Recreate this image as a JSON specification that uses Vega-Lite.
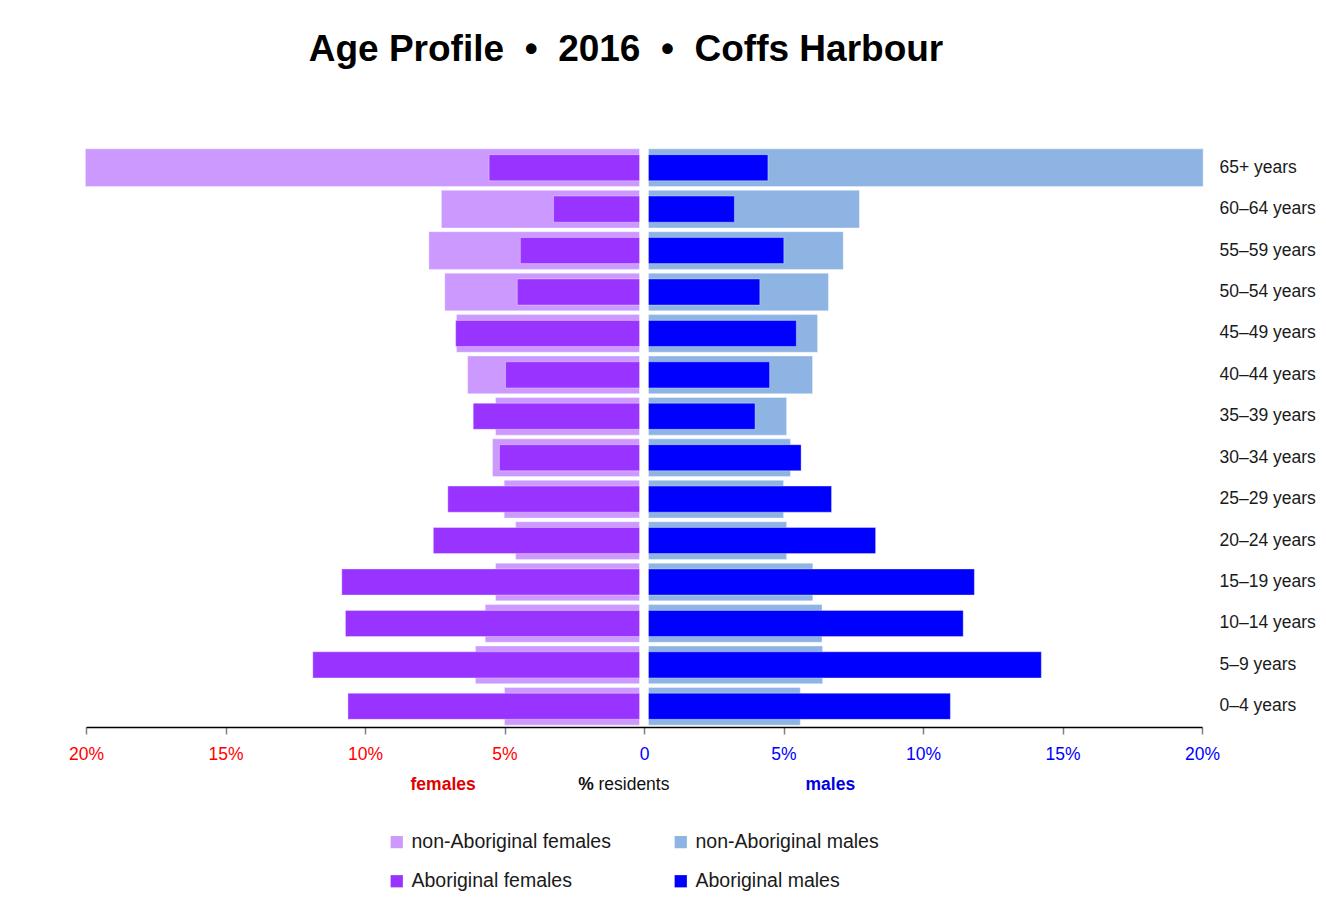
{
  "$schema": "https://vega.github.io/schema/vega-lite/v6.json",
  "width": 1116,
  "height": 580,
  "padding": {"left": 68, "top": 31, "right": 5, "bottom": 5},
  "background": "white",
  "title": {
    "text": "Age Profile\u00a0\u00a0•\u00a0\u00a02016\u00a0\u00a0•\u00a0\u00a0Coffs Harbour",
    "font": "Liberation Sans",
    "fontSize": 37,
    "fontWeight": "bold",
    "color": "black",
    "anchor": "middle",
    "frame": "group",
    "dx": -18,
    "offset": 78
  },
  "datasets": {
    "bars": [
      {"age": "65+ years", "group": "non-Aboriginal females", "share": -19.86},
      {"age": "60–64 years", "group": "non-Aboriginal females", "share": -7.10},
      {"age": "55–59 years", "group": "non-Aboriginal females", "share": -7.55},
      {"age": "50–54 years", "group": "non-Aboriginal females", "share": -6.98},
      {"age": "45–49 years", "group": "non-Aboriginal females", "share": -6.56},
      {"age": "40–44 years", "group": "non-Aboriginal females", "share": -6.16},
      {"age": "35–39 years", "group": "non-Aboriginal females", "share": -5.16},
      {"age": "30–34 years", "group": "non-Aboriginal females", "share": -5.27},
      {"age": "25–29 years", "group": "non-Aboriginal females", "share": -4.85},
      {"age": "20–24 years", "group": "non-Aboriginal females", "share": -4.44},
      {"age": "15–19 years", "group": "non-Aboriginal females", "share": -5.16},
      {"age": "10–14 years", "group": "non-Aboriginal females", "share": -5.53},
      {"age": "5–9 years", "group": "non-Aboriginal females", "share": -5.88},
      {"age": "0–4 years", "group": "non-Aboriginal females", "share": -4.84},
      {"age": "65+ years", "group": "Aboriginal females", "share": -5.39},
      {"age": "60–64 years", "group": "Aboriginal females", "share": -3.08},
      {"age": "55–59 years", "group": "Aboriginal females", "share": -4.27},
      {"age": "50–54 years", "group": "Aboriginal females", "share": -4.38},
      {"age": "45–49 years", "group": "Aboriginal females", "share": -6.59},
      {"age": "40–44 years", "group": "Aboriginal females", "share": -4.80},
      {"age": "35–39 years", "group": "Aboriginal females", "share": -5.96},
      {"age": "30–34 years", "group": "Aboriginal females", "share": -5.02},
      {"age": "25–29 years", "group": "Aboriginal females", "share": -6.87},
      {"age": "20–24 years", "group": "Aboriginal females", "share": -7.39},
      {"age": "15–19 years", "group": "Aboriginal females", "share": -10.67},
      {"age": "10–14 years", "group": "Aboriginal females", "share": -10.54},
      {"age": "5–9 years", "group": "Aboriginal females", "share": -11.71},
      {"age": "0–4 years", "group": "Aboriginal females", "share": -10.45},
      {"age": "65+ years", "group": "non-Aboriginal males", "share": 19.88},
      {"age": "60–64 years", "group": "non-Aboriginal males", "share": 7.56},
      {"age": "55–59 years", "group": "non-Aboriginal males", "share": 6.98},
      {"age": "50–54 years", "group": "non-Aboriginal males", "share": 6.45},
      {"age": "45–49 years", "group": "non-Aboriginal males", "share": 6.06},
      {"age": "40–44 years", "group": "non-Aboriginal males", "share": 5.88},
      {"age": "35–39 years", "group": "non-Aboriginal males", "share": 4.95},
      {"age": "30–34 years", "group": "non-Aboriginal males", "share": 5.09},
      {"age": "25–29 years", "group": "non-Aboriginal males", "share": 4.84},
      {"age": "20–24 years", "group": "non-Aboriginal males", "share": 4.95},
      {"age": "15–19 years", "group": "non-Aboriginal males", "share": 5.89},
      {"age": "10–14 years", "group": "non-Aboriginal males", "share": 6.22},
      {"age": "5–9 years", "group": "non-Aboriginal males", "share": 6.24},
      {"age": "0–4 years", "group": "non-Aboriginal males", "share": 5.44},
      {"age": "65+ years", "group": "Aboriginal males", "share": 4.28},
      {"age": "60–64 years", "group": "Aboriginal males", "share": 3.08},
      {"age": "55–59 years", "group": "Aboriginal males", "share": 4.85},
      {"age": "50–54 years", "group": "Aboriginal males", "share": 3.99},
      {"age": "45–49 years", "group": "Aboriginal males", "share": 5.30},
      {"age": "40–44 years", "group": "Aboriginal males", "share": 4.34},
      {"age": "35–39 years", "group": "Aboriginal males", "share": 3.82},
      {"age": "30–34 years", "group": "Aboriginal males", "share": 5.47},
      {"age": "25–29 years", "group": "Aboriginal males", "share": 6.56},
      {"age": "20–24 years", "group": "Aboriginal males", "share": 8.14},
      {"age": "15–19 years", "group": "Aboriginal males", "share": 11.68},
      {"age": "10–14 years", "group": "Aboriginal males", "share": 11.28},
      {"age": "5–9 years", "group": "Aboriginal males", "share": 14.08},
      {"age": "0–4 years", "group": "Aboriginal males", "share": 10.82}
    ],
    "notes": [
      {"note": "females", "at": -7.2},
      {"note": "%", "at": -2.08},
      {"note": "residents", "at": -0.36},
      {"note": "males", "at": 6.68}
    ]
  },
  "layer": [
    {
      "data": {"name": "bars"},
      "transform": [{"filter": "datum.group === 'non-Aboriginal females'"}],
      "mark": {"type": "bar", "height": {"band": 0.91}, "xOffset": -4.5, "x2Offset": -4.5, "stroke": "white", "strokeOpacity": 0.35, "strokeWidth": 1},
      "encoding": {
        "y": {
          "field": "age", "type": "nominal", "title": null,
          "scale": {"domain": ["65+ years", "60–64 years", "55–59 years", "50–54 years", "45–49 years", "40–44 years", "35–39 years", "30–34 years", "25–29 years", "20–24 years", "15–19 years", "10–14 years", "5–9 years", "0–4 years"], "paddingInner": 0, "paddingOuter": 0},
          "axis": {"orient": "right", "domain": false, "ticks": false, "labelPadding": 17, "labelFontSize": 17.5, "labelColor": "#1a1a1a", "labelAlign": "left", "labelFont": "Liberation Sans"}
        },
        "x": {
          "field": "share", "type": "quantitative", "title": null,
          "scale": {"domain": [-20, 20], "nice": false, "zero": false},
          "axis": {
            "orient": "bottom",
            "values": [-20, -15, -10, -5, 0, 5, 10, 15, 20],
            "labelFlush": false,
            "labelExpr": "datum.value == 0 ? '0' : abs(datum.value) + '%'",
            "labelColor": {"condition": {"test": "datum.value < 0", "value": "#ff0000"}, "value": "#0000ff"}
          }
        },
        "x2": {"datum": 0},
        "color": {
          "field": "group", "type": "nominal", "title": null,
          "scale": {"domain": ["non-Aboriginal females", "non-Aboriginal males", "Aboriginal females", "Aboriginal males"], "range": ["#cc99ff", "#8eb4e3", "#9933ff", "#0000ff"]},
          "legend": {"orient": "none", "legendX": 301, "legendY": 685, "direction": "horizontal", "columns": 2, "symbolType": "square", "symbolSize": 150, "symbolStrokeWidth": 0, "labelFontSize": 19.5, "labelFont": "Liberation Sans", "labelColor": "#1a1a1a", "labelOffset": 5, "columnPadding": 60, "rowPadding": 18.5, "labelLimit": 400}
        }
      }
    },
    {
      "data": {"name": "bars"},
      "transform": [{"filter": "datum.group === 'non-Aboriginal males'"}],
      "mark": {"type": "bar", "height": {"band": 0.91}, "xOffset": 4.5, "x2Offset": 4.5, "stroke": "white", "strokeOpacity": 0.35, "strokeWidth": 1},
      "encoding": {
        "y": {"field": "age", "type": "nominal", "title": null},
        "x": {"field": "share", "type": "quantitative", "title": null},
        "x2": {"datum": 0},
        "color": {"field": "group", "type": "nominal", "title": null}
      }
    },
    {
      "data": {"name": "bars"},
      "transform": [{"filter": "datum.group === 'Aboriginal females'"}],
      "mark": {"type": "bar", "height": {"band": 0.63}, "xOffset": -4.5, "x2Offset": -4.5, "stroke": "white", "strokeOpacity": 0.35, "strokeWidth": 1},
      "encoding": {
        "y": {"field": "age", "type": "nominal", "title": null},
        "x": {"field": "share", "type": "quantitative", "title": null},
        "x2": {"datum": 0},
        "color": {"field": "group", "type": "nominal", "title": null}
      }
    },
    {
      "data": {"name": "bars"},
      "transform": [{"filter": "datum.group === 'Aboriginal males'"}],
      "mark": {"type": "bar", "height": {"band": 0.63}, "xOffset": 4.5, "x2Offset": 4.5, "stroke": "white", "strokeOpacity": 0.35, "strokeWidth": 1},
      "encoding": {
        "y": {"field": "age", "type": "nominal", "title": null},
        "x": {"field": "share", "type": "quantitative", "title": null},
        "x2": {"datum": 0},
        "color": {"field": "group", "type": "nominal", "title": null}
      }
    },
    {
      "data": {"name": "notes"},
      "transform": [{"filter": "datum.note === 'females'"}],
      "mark": {"type": "text", "dy": 79, "baseline": "middle", "align": "center", "font": "Liberation Sans", "fontSize": 17.5, "fontWeight": "bold", "color": "#e00000"},
      "encoding": {
        "x": {"field": "at", "type": "quantitative", "title": null},
        "y": {"datum": "0–4 years"},
        "text": {"field": "note"}
      }
    },
    {
      "data": {"name": "notes"},
      "transform": [{"filter": "datum.note === '%'"}],
      "mark": {"type": "text", "dy": 79, "baseline": "middle", "align": "center", "font": "Liberation Sans", "fontSize": 17.5, "fontWeight": "bold", "color": "#111111"},
      "encoding": {
        "x": {"field": "at", "type": "quantitative", "title": null},
        "y": {"datum": "0–4 years"},
        "text": {"field": "note"}
      }
    },
    {
      "data": {"name": "notes"},
      "transform": [{"filter": "datum.note === 'residents'"}],
      "mark": {"type": "text", "dy": 79, "baseline": "middle", "align": "center", "font": "Liberation Sans", "fontSize": 17.5, "fontWeight": "normal", "color": "#111111"},
      "encoding": {
        "x": {"field": "at", "type": "quantitative", "title": null},
        "y": {"datum": "0–4 years"},
        "text": {"field": "note"}
      }
    },
    {
      "data": {"name": "notes"},
      "transform": [{"filter": "datum.note === 'males'"}],
      "mark": {"type": "text", "dy": 79, "baseline": "middle", "align": "center", "font": "Liberation Sans", "fontSize": 17.5, "fontWeight": "bold", "color": "#0000e0"},
      "encoding": {
        "x": {"field": "at", "type": "quantitative", "title": null},
        "y": {"datum": "0–4 years"},
        "text": {"field": "note"}
      }
    }
  ],
  "config": {
    "view": {"stroke": null},
    "font": "Liberation Sans",
    "axisX": {"grid": false, "domainColor": "black", "domainWidth": 1.5, "tickColor": "#808080", "tickWidth": 1.5, "tickSize": 7, "labelFontSize": 17.5, "labelPadding": 11, "labelFont": "Liberation Sans"},
    "axisY": {"grid": false}
  }
}
